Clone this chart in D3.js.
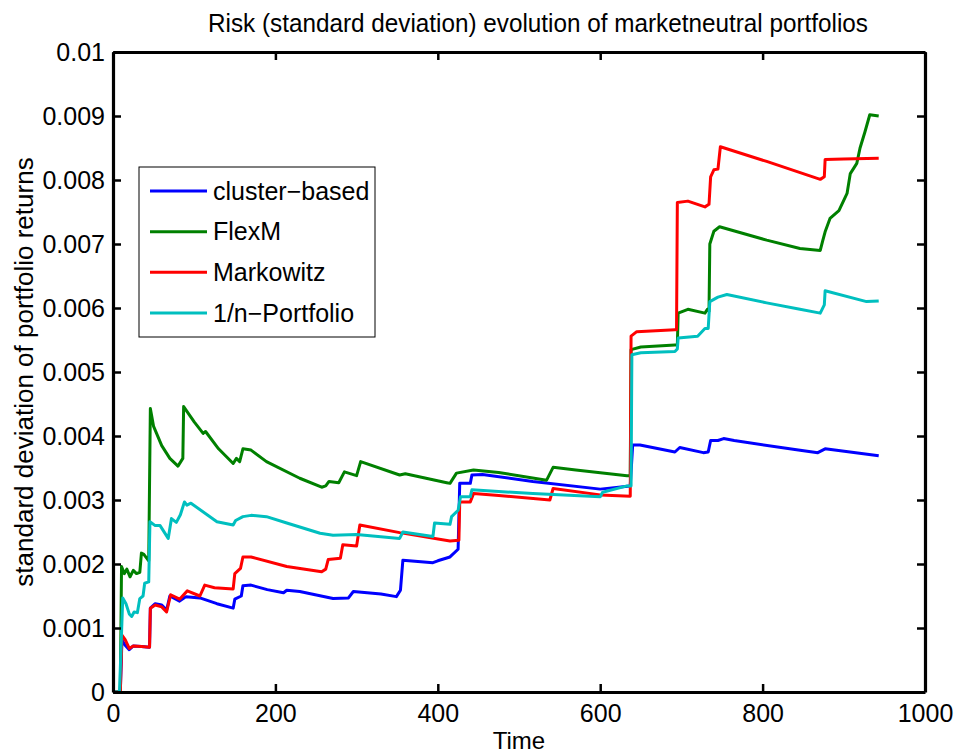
<!DOCTYPE html>
<html>
<head>
<meta charset="utf-8">
<script src="https://cdn.jsdelivr.net/npm/d3@7"></script>
<style>
  body { margin: 0; background: #fff; }
  text { font-family: "Liberation Sans", Arial, sans-serif; fill: #000; }
</style>
</head>
<body>
<div id="chart"></div>
<script>
// x axis ticks / y axis ticks
const xTicks = [0, 200, 400, 600, 800, 1000];
const yTicks = [0, 0.001, 0.002, 0.003, 0.004, 0.005, 0.006, 0.007, 0.008, 0.009, 0.01];

const seriesNames = ['cluster-based', 'FlexM', 'Markowitz', '1/n-Portfolio'];
const legendLabels = ['cluster\u2212based', 'FlexM', 'Markowitz', '1/n\u2212Portfolio'];
const seriesColors = ['#0000ff', '#008000', '#ff0000', '#00bfbf'];

// cluster-based
const clusterT = [0, 9, 11, 15, 20, 25, 35, 45, 46, 52, 60, 66, 70, 82, 90, 107, 128, 148, 150, 158, 160, 170, 190, 210, 214, 230, 271, 290, 296, 330, 349, 354, 357, 394, 400, 415, 425, 427, 440, 442, 455, 517, 600, 637, 640, 649, 692, 698, 727, 733, 736, 745, 752, 765, 844, 868, 877, 943];
const clusterV = [0, 0, 0.00081, 0.00073, 0.00066, 0.00072, 0.00071, 0.0007, 0.00131, 0.00138, 0.00136, 0.00128, 0.0015, 0.00142, 0.00149, 0.00147, 0.00138, 0.00131, 0.00145, 0.0015, 0.00166, 0.00167, 0.0016, 0.00155, 0.00159, 0.00157, 0.00146, 0.00147, 0.00157, 0.00153, 0.00149, 0.00159, 0.00206, 0.00202, 0.00205, 0.00211, 0.00223, 0.00326, 0.00326, 0.00339, 0.0034, 0.00329, 0.00317, 0.00322, 0.00386, 0.00386, 0.00375, 0.00382, 0.00374, 0.00375, 0.00393, 0.00393, 0.00396, 0.00393, 0.00378, 0.00374, 0.0038, 0.00369];

// FlexM
const flexT = [0, 9, 10.5, 14, 17, 21, 25, 29, 33, 35, 38, 41, 44, 46, 50, 60, 70, 80, 86, 87, 100, 111, 114, 130, 148, 152, 156, 160, 170, 189, 230, 257, 262, 266, 278, 285, 300, 305, 353, 360, 411, 415, 423, 444, 475, 534, 542, 570, 633, 637, 638, 650, 692, 695, 696, 708, 729, 732, 734, 735, 740, 747, 805, 846, 871, 874, 877, 883, 894, 904, 908, 916, 920, 926, 932, 943];
const flexV = [0, 0, 0.00196, 0.00185, 0.00192, 0.0018, 0.0019, 0.00185, 0.00187, 0.00217, 0.00215, 0.0021, 0.00205, 0.00443, 0.00415, 0.00385, 0.00365, 0.00353, 0.00365, 0.00446, 0.00422, 0.00404, 0.00407, 0.0038, 0.00357, 0.00365, 0.0036, 0.0038, 0.00378, 0.0036, 0.00334, 0.0032, 0.00322, 0.00329, 0.00327, 0.00344, 0.00338, 0.0036, 0.00339, 0.00341, 0.00327, 0.00326, 0.00342, 0.00347, 0.00343, 0.00331, 0.00351, 0.00347, 0.00338, 0.00338, 0.00535, 0.00539, 0.00542, 0.00542, 0.00592, 0.00598, 0.00592, 0.00598, 0.00595, 0.007, 0.0072, 0.00727, 0.00706, 0.00693, 0.0069, 0.00705, 0.00719, 0.0074, 0.00752, 0.00779, 0.0081, 0.00826, 0.0085, 0.00875, 0.00902, 0.009];

// Markowitz
const markT = [0, 9, 11, 15, 20, 25, 35, 45, 46, 52, 60, 66, 71, 82, 91.5, 107, 113, 125, 148, 150, 157, 160, 170, 214, 257, 262, 265, 280, 283, 300, 304, 353, 415, 426, 427, 440, 444, 475, 538, 542, 600, 637, 638, 645, 692, 694, 695, 708, 729, 734, 736, 740, 745, 748, 805, 871, 876, 877, 900, 943];
const markV = [0, 0, 0.00089, 0.00082, 0.00068, 0.00072, 0.00071, 0.0007, 0.00131, 0.00136, 0.00133, 0.00125, 0.00152, 0.00145, 0.00158, 0.0015, 0.00167, 0.00163, 0.00161, 0.00185, 0.00193, 0.00211, 0.00211, 0.00196, 0.00188, 0.00192, 0.00207, 0.00209, 0.0023, 0.00228, 0.00261, 0.00249, 0.00236, 0.00237, 0.00297, 0.00297, 0.0031, 0.00307, 0.003, 0.00318, 0.00308, 0.00306, 0.00556, 0.00563, 0.00566, 0.00566, 0.00765, 0.00767, 0.00758, 0.00762, 0.00805, 0.00816, 0.00817, 0.00852, 0.00829, 0.00801, 0.00805, 0.00832, 0.00833, 0.00834];

// 1/n-Portfolio
const equalT = [0, 8, 12, 16, 20, 23, 26, 30, 33, 37, 39, 44, 45.5, 52, 58, 68, 72, 78, 83, 88, 91, 96, 128, 148, 151, 160, 170, 189, 214, 255, 271, 300, 353, 357, 394, 396, 415, 417, 425, 428, 440, 442, 517, 600, 603, 633, 638, 639, 650, 692, 695, 696, 720, 729, 733, 735, 745, 756, 805, 846, 871, 876, 877, 928, 943];
const equalV = [0, 0, 0.00147, 0.00138, 0.00122, 0.00118, 0.00125, 0.00124, 0.00146, 0.0015, 0.0017, 0.00172, 0.00266, 0.0026, 0.0026, 0.0024, 0.00271, 0.00265, 0.00277, 0.00297, 0.00292, 0.00295, 0.00266, 0.00261, 0.00268, 0.00274, 0.00276, 0.00274, 0.00264, 0.00248, 0.00245, 0.00246, 0.0024, 0.0025, 0.00243, 0.00264, 0.00262, 0.00274, 0.00284, 0.00305, 0.00305, 0.00316, 0.0031, 0.00305, 0.00312, 0.00322, 0.00322, 0.00527, 0.0053, 0.00532, 0.00536, 0.00553, 0.00556, 0.00568, 0.00568, 0.0061, 0.00617, 0.00621, 0.00608, 0.00598, 0.00592, 0.00605, 0.00627, 0.0061, 0.00611];

const seriesT = [clusterT, flexT, markT, equalT];
const seriesV = [clusterV, flexV, markV, equalV];

const width = 957;
const height = 753;
const margin = { top: 52, right: 32, bottom: 61, left: 113 };

const svg = d3.select('#chart')
  .append('svg')
  .attr('width', width)
  .attr('height', height)
  .attr('viewBox', `0 0 ${width} ${height}`);

const x = d3.scaleLinear().domain([0, 1000]).range([margin.left, width - margin.right]);
const y = d3.scaleLinear().domain([0, 0.01]).range([height - margin.bottom, margin.top]);

const fmtY = d => (d === 0 ? '0' : String(+d.toFixed(3)));
const fmtX = d3.format('d');

// lines
const line = d3.line()
  .x(d => x(d[0]))
  .y(d => y(d[1]));

seriesNames.forEach((name, i) => {
  const pts = seriesT[i].map((t, j) => [t, seriesV[i][j]]);
  svg.append('path')
    .datum(pts)
    .attr('fill', 'none')
    .attr('stroke', seriesColors[i])
    .attr('stroke-width', 3)
    .attr('stroke-linejoin', 'round')
    .attr('d', line);
});

// axes (MATLAB-ish box with inward ticks)
const tickLen = 8;
const axisBottom = svg.append('g')
  .attr('transform', `translate(0,${y(0)})`)
  .call(d3.axisBottom(x).tickValues(xTicks).tickSizeInner(-tickLen).tickSizeOuter(0).tickPadding(12).tickFormat(fmtX));
const axisTop = svg.append('g')
  .attr('transform', `translate(0,${y(0.01)})`)
  .call(d3.axisTop(x).tickValues(xTicks).tickSizeInner(-tickLen).tickSizeOuter(0).tickFormat(''));
const axisLeft = svg.append('g')
  .attr('transform', `translate(${x(0)},0)`)
  .call(d3.axisLeft(y).tickValues(yTicks).tickSizeInner(-tickLen).tickSizeOuter(0).tickPadding(8).tickFormat(fmtY));
const axisRight = svg.append('g')
  .attr('transform', `translate(${x(1000)},0)`)
  .call(d3.axisRight(y).tickValues(yTicks).tickSizeInner(-tickLen).tickSizeOuter(0).tickFormat(''));

[axisBottom, axisTop, axisLeft, axisRight].forEach(g => {
  g.select('.domain').attr('stroke', '#000').attr('stroke-width', 3.2);
  g.selectAll('.tick line').attr('stroke', '#000').attr('stroke-width', 2.5);
  g.selectAll('.tick text')
    .attr('font-family', '"Liberation Sans", Arial, sans-serif')
    .attr('font-size', 25)
    .attr('fill', '#000');
});
axisBottom.selectAll('.tick text').attr('dy', '0.71em');

// title and axis labels
svg.append('text')
  .attr('x', 538)
  .attr('y', 32)
  .attr('text-anchor', 'middle')
  .attr('font-size', 26)
  .attr('textLength', 660)
  .attr('lengthAdjust', 'spacingAndGlyphs')
  .text('Risk (standard deviation) evolution of marketneutral portfolios');

svg.append('text')
  .attr('x', (x(0) + x(1000)) / 2)
  .attr('y', 749)
  .attr('text-anchor', 'middle')
  .attr('font-size', 24)
  .text('Time');

svg.append('text')
  .attr('transform', `translate(33,${(y(0) + y(0.01)) / 2}) rotate(-90)`)
  .attr('text-anchor', 'middle')
  .attr('font-size', 26)
  .text('standard deviation of portfolio returns');

// legend
const legend = svg.append('g').attr('transform', 'translate(139,167)');
legend.append('rect')
  .attr('width', 236)
  .attr('height', 170)
  .attr('fill', '#fff')
  .attr('stroke', '#000')
  .attr('stroke-width', 1);

const rowY = d3.scalePoint().domain(seriesNames).range([24, 146]);
seriesNames.forEach((name, i) => {
  const row = legend.append('g').attr('transform', `translate(0,${rowY(name)})`);
  row.append('line')
    .attr('x1', 11).attr('x2', 68)
    .attr('stroke', seriesColors[i])
    .attr('stroke-width', 3);
  row.append('text')
    .attr('x', 74)
    .attr('dy', '0.35em')
    .attr('font-size', 25)
    .text(legendLabels[i]);
});
</script>
</body>
</html>
